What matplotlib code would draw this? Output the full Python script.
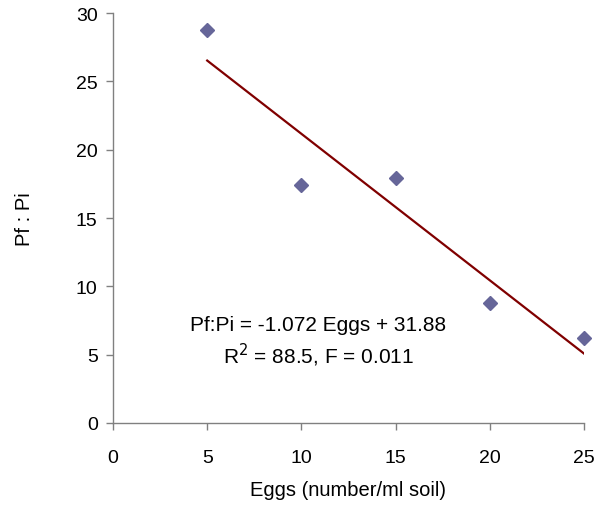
import matplotlib
matplotlib.use("Agg")
import matplotlib.pyplot as plt
import numpy as np

plt.rcParams['font.family'] = ['Liberation Sans', 'DejaVu Sans']

eggs = [5, 10, 15, 20, 25]
pf_pi = [28.75, 17.4, 17.92, 8.76, 6.2]
slope = -1.072
intercept = 31.88
eq_text = "Pf:Pi = -1.072 Eggs + 31.88\nR$^2$ = 88.5, F = 0.011"
x_ticks = [0, 5, 10, 15, 20, 25]
y_ticks = [0, 5, 10, 15, 20, 25, 30]

fig = plt.figure(figsize=(5.96, 5.06), dpi=100)
ax = fig.add_axes([113/596, 1-424/506, (584-113)/596, (424-14)/506])

xs = np.array([min(eggs), max(eggs)])
ax.plot(xs, slope * xs + intercept, color='#800000', lw=1.6, zorder=2)
ax.plot(eggs, pf_pi, linestyle='none', marker='D', markersize=7.6,
        color='#666699', zorder=3, clip_on=False)

ax.set_xlim(0, 25)
ax.set_ylim(0, 30)
ax.set_xticks(x_ticks)
ax.set_yticks(y_ticks)
for s in ['top', 'right']:
    ax.spines[s].set_visible(False)
for s in ['left', 'bottom']:
    ax.spines[s].set_color('#808080')
    ax.spines[s].set_linewidth(1.0)
ax.tick_params(axis='both', direction='out', length=5, color='#808080',
               labelsize=14, labelcolor='black', width=1.0)
ax.tick_params(axis='x', pad=14)
ax.tick_params(axis='y', pad=6)

ax.set_xlabel('Eggs (number/ml soil)', fontsize=14.5, labelpad=10)
ax.set_ylabel('Pf : Pi', fontsize=14.5, labelpad=30)

ax.text(10.9, 5.96, eq_text, ha='center', va='center', fontsize=15,
        linespacing=1.35)

fig.savefig('out.png', dpi=100)
